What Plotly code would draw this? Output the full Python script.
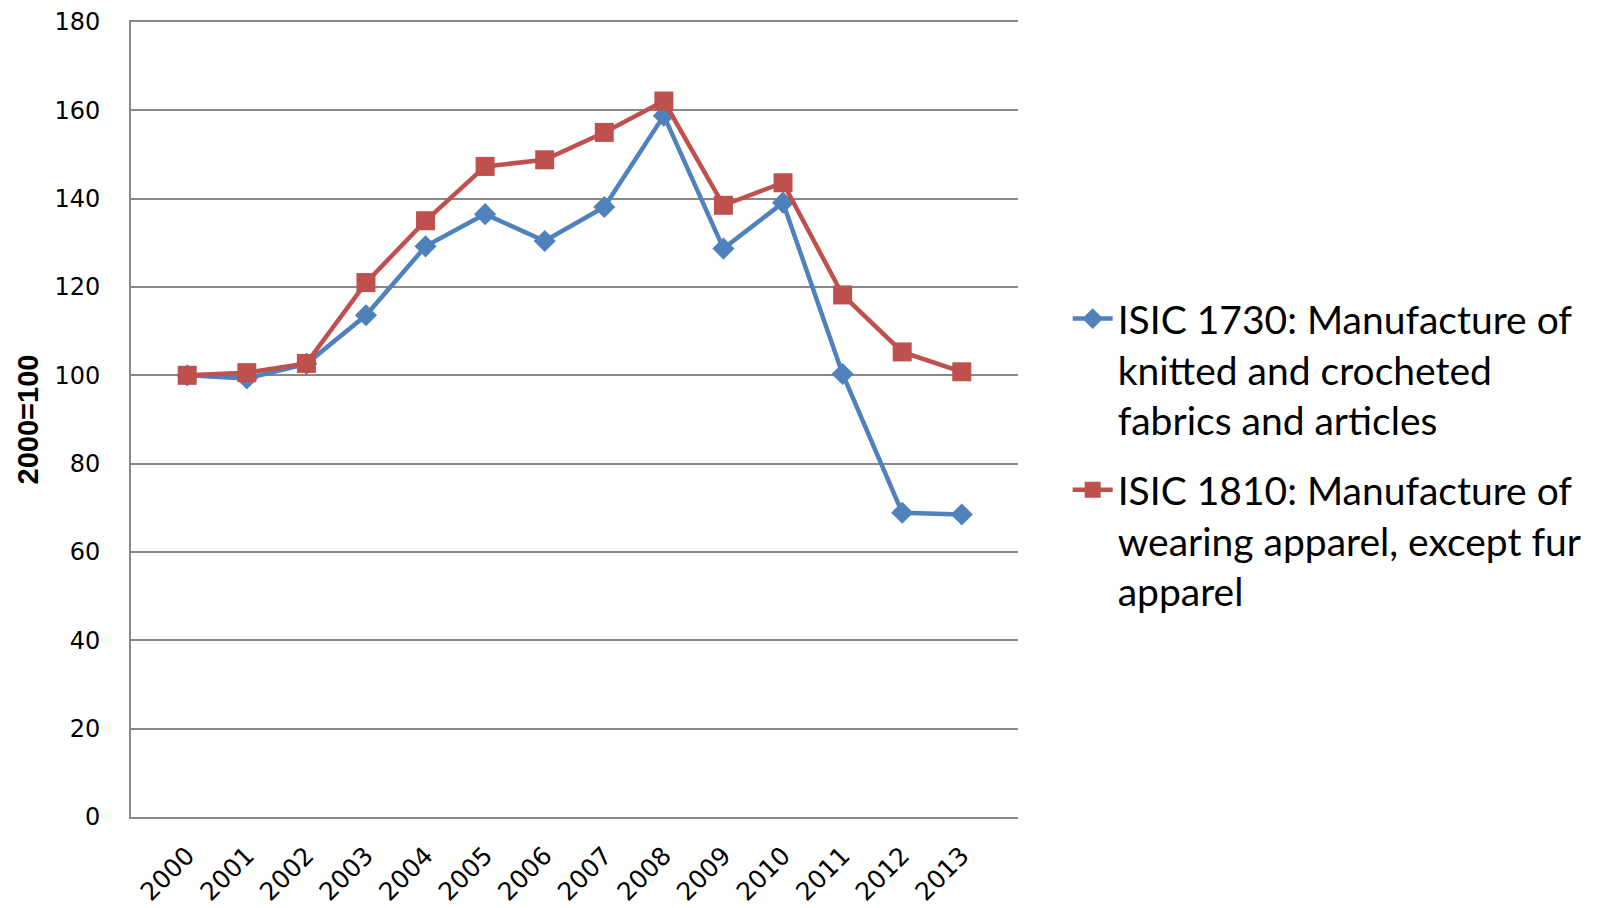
import plotly.graph_objects as go

years = [str(y) for y in range(2000, 2014)]
isic_1730 = [100, 99.3, 102.6, 113.6, 129.2, 136.5, 130.4, 138.1, 158.8, 128.7, 139.1, 100.3, 68.9, 68.5]
isic_1810 = [100, 100.6, 102.7, 121.0, 135.0, 147.3, 148.8, 155.0, 162.1, 138.5, 143.6, 118.2, 105.3, 100.8]

name_1730 = "ISIC 1730: Manufacture of<br>knitted and crocheted<br>fabrics and articles"
name_1810 = "ISIC 1810: Manufacture of<br>wearing apparel, except fur<br>apparel"

fig = go.Figure()
fig.add_trace(go.Scatter(
    x=years, y=isic_1730, name=name_1730, mode="lines+markers", legendgroup="a",
    line=dict(color="#4F81BD", width=4.5),
    marker=dict(symbol="diamond", size=17, color="#4F81BD"),
))
fig.add_trace(go.Scatter(
    x=years, y=isic_1810, name=name_1810, mode="lines+markers", legendgroup="b",
    line=dict(color="#C0504D", width=4.5),
    marker=dict(symbol="square", size=19, color="#C0504D"),
))

# the page body adds an 8px offset, so the figure is drawn a bit smaller than the window
fig.update_layout(
    width=1603, height=900,
    margin=dict(l=123, r=593, t=14, b=91),
    plot_bgcolor="white", paper_bgcolor="white",
    font=dict(family="DejaVu Sans", color="black"),
    showlegend=True,
    legend=dict(
        x=1.056, y=0.667, xanchor="left", yanchor="top",
        font=dict(family="Lato", size=39, color="black"),
        valign="top", itemwidth=40, traceorder="grouped", tracegroupgap=16,
    ),
)
# mirror gives the top gridline at 180 (plotly skips grid lines on the plot edge)
fig.update_xaxes(
    type="category", showgrid=False, showline=True, linecolor="#888888", linewidth=2,
    mirror=True, tickangle=-45, tickfont=dict(size=25), ticks="", ticklabelstandoff=12,
    automargin=False,
)
fig.update_yaxes(
    range=[0, 180], tick0=0, dtick=20, showgrid=True, gridcolor="#888888", gridwidth=2,
    showline=True, linecolor="#888888", linewidth=2, zeroline=False,
    tickfont=dict(size=24), ticks="", ticklabelstandoff=24, automargin=False,
    ticklabeloverflow="allow",
    title=dict(text="<b>2000=100</b>", font=dict(family="Liberation Sans", size=29), standoff=7),
)

fig.write_html("out.html")
